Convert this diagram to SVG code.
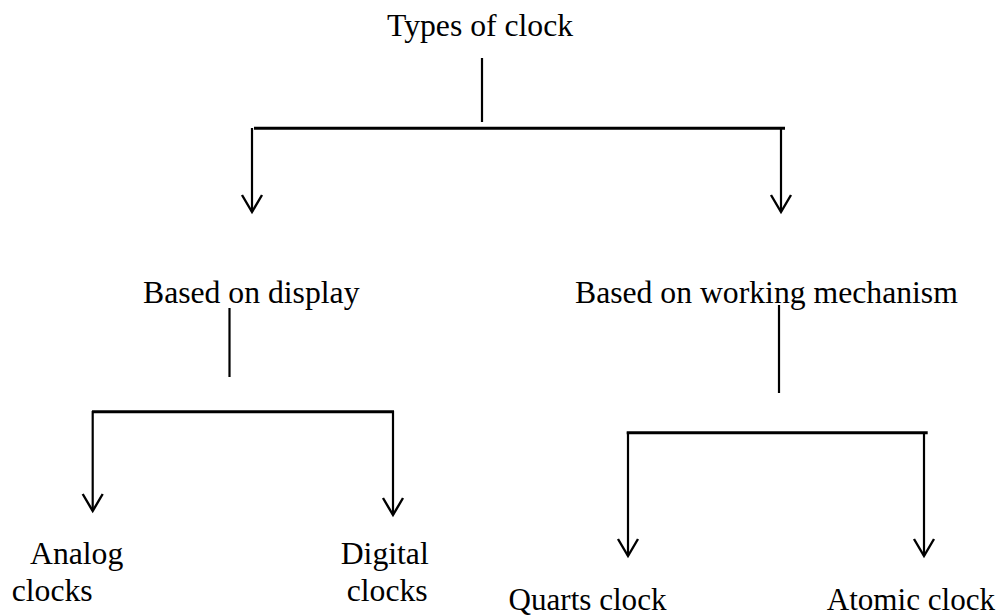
<svg xmlns="http://www.w3.org/2000/svg" width="1002" height="616" viewBox="0 0 1002 616">
<style>
text{font-family:"Liberation Serif","Times New Roman",serif;font-size:31.7px;fill:#000}
text.s{font-size:31.1px}
.h{stroke:#000;stroke-width:3;fill:none}
.v{stroke:#000;stroke-width:2.2;fill:none}
.a{stroke:#000;stroke-width:2.2;fill:none;marker-end:url(#ah)}
</style>
<defs>
<marker id="ah" viewBox="-19 -12 22 24" refX="0" refY="0" markerWidth="22" markerHeight="24" markerUnits="userSpaceOnUse" orient="auto" overflow="visible">
<path d="M-17,-10 L0,0 L-17,10" fill="none" stroke="#000" stroke-width="2.4"/>
</marker>
</defs>
<rect width="1002" height="616" fill="#fff"/>
<g id="connectors">
<line class="v" x1="482" y1="58" x2="482" y2="122"/>
<line class="h" x1="254" y1="128.3" x2="785" y2="128.3"/>
<line class="a" x1="252" y1="128" x2="252" y2="212"/>
<line class="a" x1="781" y1="128" x2="781" y2="212"/>
<line class="v" x1="229.5" y1="308" x2="229.5" y2="377"/>
<line class="h" x1="92" y1="411.7" x2="394" y2="411.7"/>
<line class="a" x1="92.7" y1="411" x2="92.7" y2="511"/>
<line class="a" x1="393" y1="411" x2="393" y2="515"/>
<line class="v" x1="779" y1="305" x2="779" y2="393"/>
<line class="h" x1="626.7" y1="432.7" x2="927.7" y2="432.7"/>
<line class="a" x1="628" y1="432" x2="628" y2="556"/>
<line class="a" x1="924" y1="432" x2="924" y2="556"/>
</g>
<g id="n-types"><text x="387" y="36">Types of clock</text></g>
<g id="n-display"><text x="143" y="303">Based on display</text></g>
<g id="n-mechanism"><text x="575" y="303">Based on working mechanism</text></g>
<g id="n-analog"><text x="30" y="564">Analog</text><text x="11.7" y="601">clocks</text></g>
<g id="n-digital"><text x="340.7" y="564">Digital</text><text x="346.7" y="601">clocks</text></g>
<g id="n-quarts"><text class="s" x="508.5" y="610">Quarts clock</text></g>
<g id="n-atomic"><text class="s" x="826.7" y="610">Atomic clock</text></g>
</svg>
